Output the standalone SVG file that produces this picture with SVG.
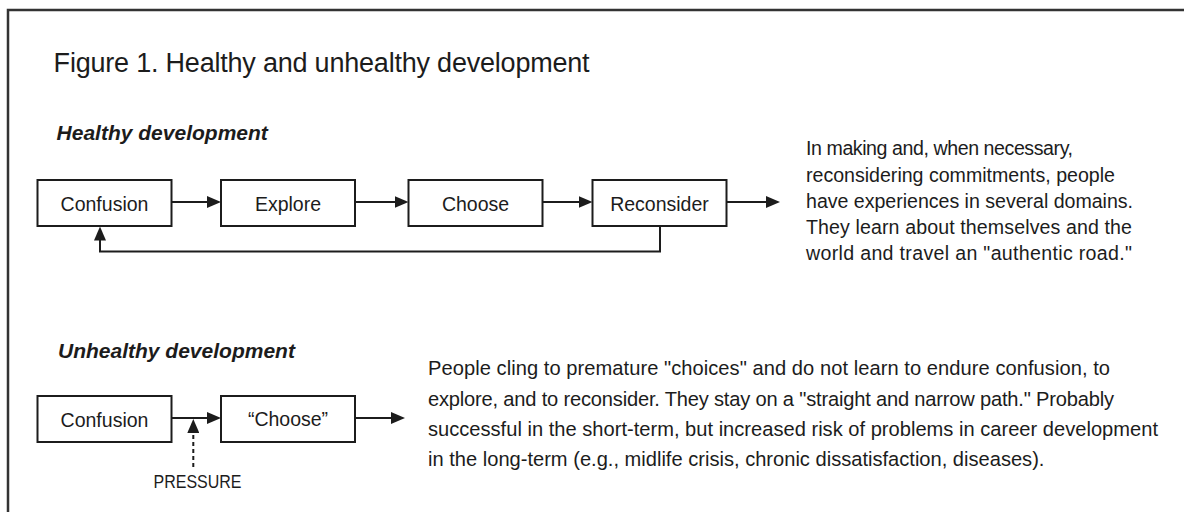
<svg xmlns="http://www.w3.org/2000/svg" width="1184" height="512" viewBox="0 0 1184 512">
  <style>
    text { font-family: "Liberation Sans", Arial, sans-serif; fill: #1c1c1c; }
    .title { font-size: 27px; }
    .head { font-size: 21px; font-weight: bold; font-style: italic; }
    .lbl { font-size: 19.5px; text-anchor: middle; }
    .para1 { font-size: 19.6px; }
    .para2 { font-size: 20.1px; }
    .box { fill: #ffffff; stroke: #1c1c1c; stroke-width: 2; }
    .conn { fill: none; stroke: #1c1c1c; stroke-width: 2; }
    .dash { stroke-dasharray: 4 3; }
  </style>
  <defs>
    <marker id="arrow" viewBox="0 0 14 12" refX="4" refY="6" markerWidth="14" markerHeight="12" markerUnits="userSpaceOnUse" orient="auto">
      <path d="M0,0 L14,6 L0,12 Z" fill="#1c1c1c"/>
    </marker>
  </defs>
  <rect width="1184" height="512" fill="#ffffff"/>
  <path d="M8,512 V10 H1184" fill="none" stroke="#333333" stroke-width="2.5"/>

  <text class="title" x="53.6" y="71.7" textLength="536">Figure 1. Healthy and unhealthy development</text>
  <text class="head" x="56.6" y="140">Healthy development</text>
  <text class="head" x="58" y="358">Unhealthy development</text>

  <g id="connectors">
    <line class="conn" x1="172" y1="202" x2="211" y2="202" marker-end="url(#arrow)"/>
    <line class="conn" x1="355" y1="202" x2="398.5" y2="202" marker-end="url(#arrow)"/>
    <line class="conn" x1="542" y1="202" x2="582.5" y2="202" marker-end="url(#arrow)"/>
    <line class="conn" x1="726" y1="202" x2="770" y2="202" marker-end="url(#arrow)"/>
    <polyline class="conn" points="660,226.5 660,251.5 100,251.5 100,236.5" marker-end="url(#arrow)"/>
    <line class="conn" x1="172" y1="418" x2="211" y2="418" marker-end="url(#arrow)"/>
    <line class="conn" x1="355" y1="418" x2="395" y2="418" marker-end="url(#arrow)"/>
    <line class="conn dash" x1="193.3" y1="467" x2="193.3" y2="429" marker-end="url(#arrow)"/>
  </g>

  <g id="node-confusion-1">
    <rect class="box" x="37.5" y="180" width="134" height="46"/>
    <text class="lbl" x="104.5" y="211">Confusion</text>
  </g>
  <g id="node-explore">
    <rect class="box" x="221" y="180" width="134" height="46"/>
    <text class="lbl" x="288" y="211">Explore</text>
  </g>
  <g id="node-choose">
    <rect class="box" x="408.5" y="180" width="134" height="46"/>
    <text class="lbl" x="475.5" y="211">Choose</text>
  </g>
  <g id="node-reconsider">
    <rect class="box" x="592.5" y="180" width="134" height="46"/>
    <text class="lbl" x="659.5" y="211">Reconsider</text>
  </g>
  <g id="healthy-text">
    <text class="para1" x="806" y="155" textLength="267">In making and, when necessary,</text>
    <text class="para1" x="806" y="181.5" textLength="309">reconsidering commitments, people</text>
    <text class="para1" x="806" y="208" textLength="327">have experiences in several domains.</text>
    <text class="para1" x="806" y="234" textLength="326">They learn about themselves and the</text>
    <text class="para1" x="806" y="260" textLength="326">world and travel an "authentic road."</text>
  </g>

  <g id="node-confusion-2">
    <rect class="box" x="37.5" y="396" width="134" height="46"/>
    <text class="lbl" x="104.5" y="426.5">Confusion</text>
  </g>
  <g id="node-choose-quoted">
    <rect class="box" x="221" y="396" width="134" height="46"/>
    <text class="lbl" x="288" y="426">“Choose”</text>
  </g>
  <g id="pressure">
    <text x="153.5" y="488" font-size="18" textLength="88" lengthAdjust="spacingAndGlyphs">PRESSURE</text>
  </g>
  <g id="unhealthy-text">
    <text class="para2" x="428" y="375" textLength="682">People cling to premature "choices" and do not learn to endure confusion, to</text>
    <text class="para2" x="428" y="405.5" textLength="686">explore, and to reconsider. They stay on a "straight and narrow path." Probably</text>
    <text class="para2" x="428" y="436" textLength="730">successful in the short-term, but increased risk of problems in career development</text>
    <text class="para2" x="428" y="466">in the long-term (e.g., midlife crisis, chronic dissatisfaction, diseases).</text>
  </g>
</svg>
